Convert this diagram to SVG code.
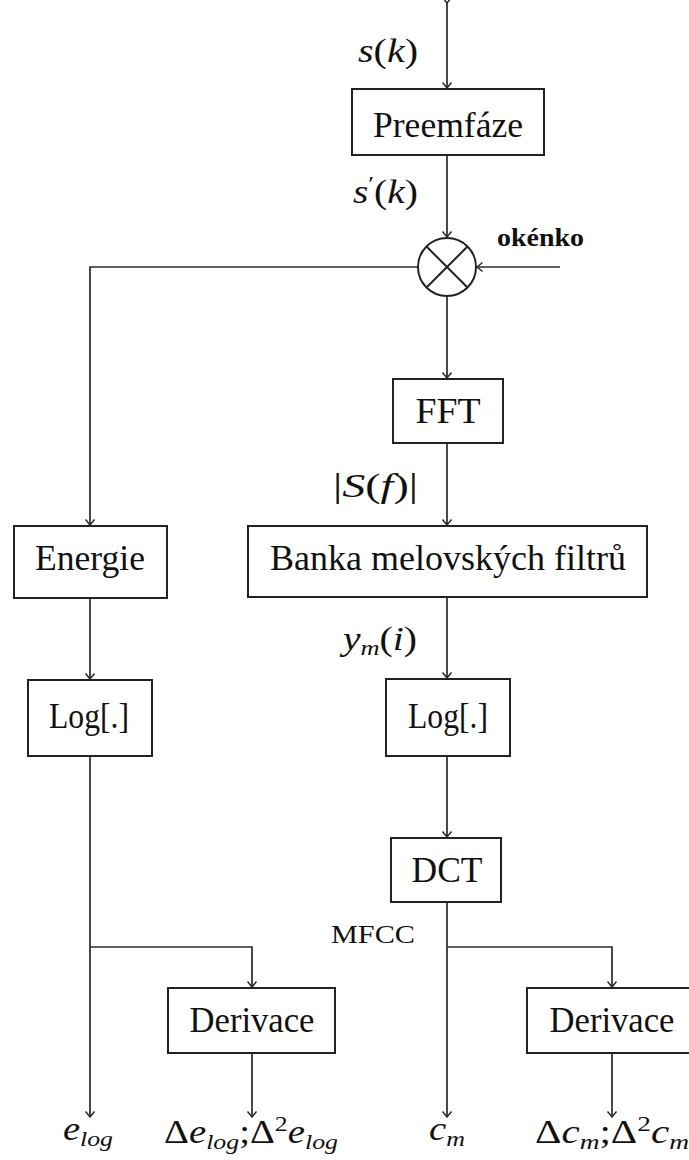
<svg xmlns="http://www.w3.org/2000/svg" width="689" height="1160" viewBox="0 0 689 1160">
<style>
.box{fill:#fff;stroke:#222;stroke-width:2}
.lbl{font-family:"Liberation Serif","DejaVu Serif",serif;font-size:35px;fill:#111;text-anchor:middle}
.m{font-family:"Liberation Serif","DejaVu Serif",serif;font-size:33px;fill:#111}
.i{font-style:italic}
.sm{font-size:22px}
.c{fill:none;stroke:#2a2a2a;stroke-width:1.7}
</style>
<defs>
<marker id="ar" markerWidth="12" markerHeight="12" refX="0" refY="0" viewBox="-7 -6 8 12" orient="auto" markerUnits="userSpaceOnUse">
<path d="M-5.5,-4.5 Q-1.5,-1.2 0,0 Q-1.5,1.2 -5.5,4.5" fill="none" stroke="#2a2a2a" stroke-width="1.5"/>
</marker>
</defs>

<g id="connectors">
<path class="c" d="M447,3 L447,88" marker-start="url(#ar)" marker-end="url(#ar)"/>
<path class="c" d="M447,155 L447,237" marker-end="url(#ar)"/>
<path class="c" d="M560,267 L477,267" marker-end="url(#ar)"/>
<path class="c" d="M418,267 L90,267 L90,525" marker-end="url(#ar)"/>
<path class="c" d="M447,296 L447,378" marker-end="url(#ar)"/>
<path class="c" d="M447,443 L447,525" marker-end="url(#ar)"/>
<path class="c" d="M90,598 L90,679" marker-end="url(#ar)"/>
<path class="c" d="M447,597 L447,678" marker-end="url(#ar)"/>
<path class="c" d="M447,756 L447,837" marker-end="url(#ar)"/>
<path class="c" d="M90,756 L90,1117" marker-end="url(#ar)"/>
<path class="c" d="M90,947 L252,947 L252,987" marker-end="url(#ar)"/>
<path class="c" d="M252,1053 L252,1117" marker-end="url(#ar)"/>
<path class="c" d="M447,902 L447,1117" marker-end="url(#ar)"/>
<path class="c" d="M447,947 L612,947 L612,987" marker-end="url(#ar)"/>
<path class="c" d="M612,1053 L612,1117" marker-end="url(#ar)"/>
</g>

<g id="mult">
<circle cx="447" cy="267" r="29" fill="#fff" stroke="#222" stroke-width="2"/>
<path d="M426.5,246.5 L467.5,287.5 M467.5,246.5 L426.5,287.5" stroke="#222" stroke-width="2"/>
</g>

<g id="preemfaze"><rect class="box" x="352" y="89" width="192" height="66"/><text class="lbl" x="448" y="137" textLength="150" lengthAdjust="spacingAndGlyphs">Preemfáze</text></g>
<g id="fft"><rect class="box" x="393" y="379" width="110" height="64"/><text class="lbl" x="448" y="423" textLength="65" lengthAdjust="spacingAndGlyphs">FFT</text></g>
<g id="energie"><rect class="box" x="14" y="526" width="153" height="72"/><text class="lbl" x="90" y="570" textLength="110" lengthAdjust="spacingAndGlyphs">Energie</text></g>
<g id="banka"><rect class="box" x="248" y="526" width="399" height="71"/><text class="lbl" x="448" y="570" textLength="356" lengthAdjust="spacingAndGlyphs">Banka melovských filtrů</text></g>
<g id="log-left"><rect class="box" x="28" y="680" width="124" height="76"/><text class="lbl" x="89" y="728" textLength="80" lengthAdjust="spacingAndGlyphs">Log[.]</text></g>
<g id="log-right"><rect class="box" x="386" y="679" width="124" height="77"/><text class="lbl" x="448" y="728" textLength="80" lengthAdjust="spacingAndGlyphs">Log[.]</text></g>
<g id="dct"><rect class="box" x="391" y="838" width="110" height="64"/><text class="lbl" x="447" y="882" textLength="71" lengthAdjust="spacingAndGlyphs">DCT</text></g>
<g id="derivace-left"><rect class="box" x="168" y="988" width="167" height="65"/><text class="lbl" x="252" y="1032" textLength="125" lengthAdjust="spacingAndGlyphs">Derivace</text></g>
<g id="derivace-right"><rect class="box" x="527" y="988" width="170" height="65"/><text class="lbl" x="612" y="1032" textLength="125" lengthAdjust="spacingAndGlyphs">Derivace</text></g>

<g id="labels">
<text class="m" x="358" y="62" textLength="60" lengthAdjust="spacingAndGlyphs"><tspan class="i">s</tspan>(<tspan class="i">k</tspan>)</text>
<text class="m" x="353" y="203" textLength="65" lengthAdjust="spacingAndGlyphs"><tspan class="i">s</tspan><tspan class="sm" dy="-12">′</tspan><tspan dy="12">(</tspan><tspan class="i">k</tspan>)</text>
<text class="m" x="497" y="246" style="font-size:26px;font-weight:bold" textLength="87" lengthAdjust="spacingAndGlyphs">okénko</text>
<text class="m" x="333" y="497" textLength="85" lengthAdjust="spacingAndGlyphs">|<tspan class="i">S</tspan>(<tspan class="i">f</tspan>)|</text>
<text class="m" x="343" y="650" textLength="74" lengthAdjust="spacingAndGlyphs"><tspan class="i">y</tspan><tspan class="i sm" dy="5">m</tspan><tspan dy="-5">(</tspan><tspan class="i">i</tspan>)</text>
<text class="m" x="331" y="943" style="font-size:26px" textLength="84" lengthAdjust="spacingAndGlyphs">MFCC</text>
<text class="m" x="63" y="1140" textLength="50" lengthAdjust="spacingAndGlyphs"><tspan class="i">e</tspan><tspan class="i sm" dy="6">log</tspan></text>
<text class="m" x="164" y="1143" textLength="174" lengthAdjust="spacingAndGlyphs">Δ<tspan class="i">e</tspan><tspan class="i sm" dy="6">log</tspan><tspan dy="-6">;Δ</tspan><tspan class="sm" dy="-12">2</tspan><tspan class="i" dy="12">e</tspan><tspan class="i sm" dy="6">log</tspan></text>
<text class="m" x="429" y="1140" textLength="36" lengthAdjust="spacingAndGlyphs"><tspan class="i">c</tspan><tspan class="i sm" dy="6">m</tspan></text>
<text class="m" x="535" y="1143" textLength="154" lengthAdjust="spacingAndGlyphs">Δ<tspan class="i">c</tspan><tspan class="i sm" dy="6">m</tspan><tspan dy="-6">;Δ</tspan><tspan class="sm" dy="-12">2</tspan><tspan class="i" dy="12">c</tspan><tspan class="i sm" dy="6">m</tspan></text>
</g>
</svg>
